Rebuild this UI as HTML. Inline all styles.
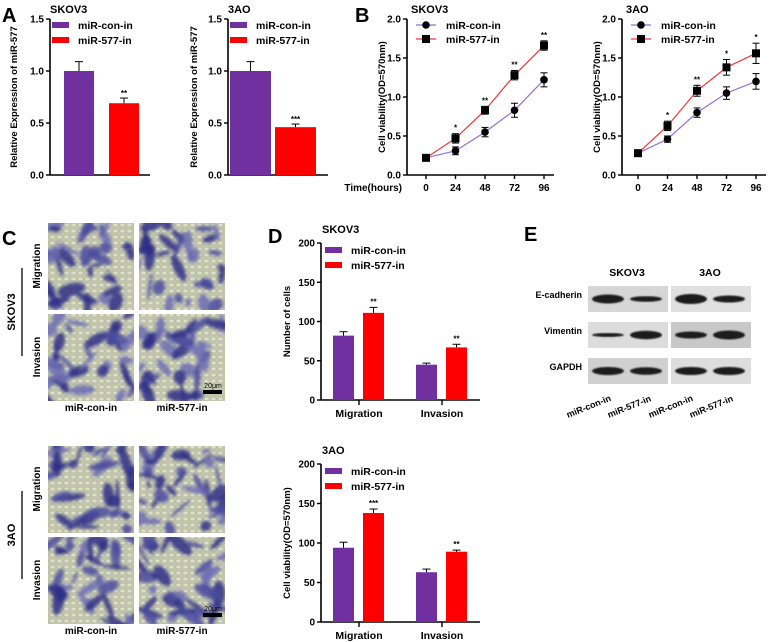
<!DOCTYPE html>
<html><head><meta charset="utf-8"><style>
html,body{margin:0;padding:0;background:#fff}
svg{display:block;font-family:"Liberation Sans",sans-serif;font-weight:bold}
</style></head><body>
<svg id="fig" width="778" height="642" viewBox="0 0 778 642" xmlns="http://www.w3.org/2000/svg">
<defs>
<filter id="blur1"><feGaussianBlur stdDeviation="1.6"/></filter>
<filter id="blur2"><feGaussianBlur stdDeviation="0.8"/></filter>
<pattern id="cellpat" width="7" height="6" patternUnits="userSpaceOnUse">
<rect width="7" height="6" fill="#c3c6ab"/>
<ellipse cx="3.5" cy="3" rx="2.6" ry="2" fill="#dcdfca" stroke="#a9ae94" stroke-width="0.5"/>
</pattern>
</defs>
<g font-size="20">
<text x="2" y="22">A</text>
<text x="355" y="22">B</text>
<text x="2" y="245">C</text>
<text x="268" y="243">D</text>
<text x="524" y="241">E</text>
</g>
<g id="root"></g>
</svg>
<script>
// ---- data ----
const aGroups = ["miR-con-in","miR-577-in"];
const aSkovVals = [1.0, 0.69];
const aSkovErr = [0.09, 0.05];
const aSkovStars = ["", "**"];
const a3aoVals = [1.0, 0.46];
const a3aoErr = [0.09, 0.03];
const a3aoStars = ["", "***"];
const aTicks = ["0.0","0.5","1.0","1.5"];

const bTimes = [0, 24, 48, 72, 96];
const bSkovCon = [0.22, 0.31, 0.55, 0.83, 1.22];
const bSkovConErr = [0.03, 0.05, 0.06, 0.09, 0.09];
const bSkov577 = [0.22, 0.47, 0.83, 1.28, 1.66];
const bSkov577Err = [0.03, 0.06, 0.05, 0.06, 0.06];
const bSkovStars = ["", "*", "**", "**", "**"];
const b3aoCon = [0.28, 0.46, 0.80, 1.05, 1.20];
const b3aoConErr = [0.03, 0.04, 0.06, 0.08, 0.10];
const b3ao577 = [0.28, 0.63, 1.08, 1.38, 1.56];
const b3ao577Err = [0.03, 0.06, 0.07, 0.10, 0.13];
const b3aoStars = ["", "*", "**", "*", "*"];
const bTicks = ["0.0","0.5","1.0","1.5","2.0"];

const dCats = ["Migration","Invasion"];
const dSkovCon = [82, 45];
const dSkovConErr = [5, 2];
const dSkov577 = [111, 67];
const dSkov577Err = [7, 4];
const dSkovStars = ["**","**"];
const d3aoCon = [94, 63];
const d3aoConErr = [7, 4];
const d3ao577 = [138, 89];
const d3ao577Err = [5, 2];
const d3aoStars = ["***","**"];
const dTicks = ["0","50","100","150","200"];

const PURPLE = "#7030a0", RED = "#ff0000", LINEP = "#9a6bd6", LINER = "#ff3030";
const NS = "http://www.w3.org/2000/svg";
const root = document.getElementById("root");

function mk(tag, attrs, name, parent) {
  const el = document.createElementNS(NS, tag);
  for (const k in attrs) el.setAttribute(k, attrs[k]);
  
  
  (parent || root).appendChild(el);
  return el;
}
function txt(x, y, s, size, name, anchor, extra) {
  const a = {x: x, y: y, "font-size": size, "text-anchor": anchor || "start", fill: "#000"};
  if (extra) for (const k in extra) a[k] = extra[k];
  const t = mk("text", a, name);
  t.textContent = s;
  return t;
}
function errBar(x, yTop, yMid, name, col) {
  mk("line", {x1: x, x2: x, y1: yTop, y2: yMid, stroke: col || "#000", "stroke-width": 1}, name);
  mk("line", {x1: x - 4, x2: x + 4, y1: yTop, y2: yTop, stroke: col || "#000", "stroke-width": 1}, name + "-cap");
}
function yAxis(x, y0, y1, ticks, tmax, name) {
  mk("line", {x1: x, x2: x, y1: y0, y2: y1, stroke: "#000", "stroke-width": 1.6}, name);
  ticks.forEach((t, i) => {
    const y = y0 - (y0 - y1) * (parseFloat(t) / tmax);
    mk("line", {x1: x - 4, x2: x, y1: y, y2: y, stroke: "#000", "stroke-width": 1.4}, name + "-tick");
    txt(x - 6, y + 3.5, t, 10, name + "-tick-label", "end");
  });
}
function legendBars(x, y, name) {
  mk("rect", {x: x, y: y - 3, width: 17, height: 6, fill: PURPLE}, name + "-swatch-con");
  txt(x + 26, y + 4, "miR-con-in", 10.5, name + "-label-con");
  mk("rect", {x: x, y: y + 12, width: 17, height: 6, fill: RED}, name + "-swatch-577");
  txt(x + 26, y + 19, "miR-577-in", 10.5, name + "-label-577");
}

// ---- Panel A ----
function panelA(ax, title, vals, errs, stars, barX, barW, name, labX) {
  const y0 = 175, y1 = 19, max = 1.5;
  const Y = v => y0 - (y0 - y1) * v / max;
  txt(ax, 13, title, 11, name + "-title");
  yAxis(ax, y0, y1, aTicks, max, name + "-y-axis");
  mk("line", {x1: ax, x2: ax + 100, y1: y0, y2: y0, stroke: "#000", "stroke-width": 1.6}, name + "-x-axis");
  txt(labX, 97, "Relative Expression of miR-577", 9.5, name + "-y-axis-title", "middle", {transform: "rotate(-90 " + labX + " 97)"});
  const cols = [PURPLE, RED];
  vals.forEach((v, i) => {
    const x = barX[i];
    errBar(x + barW / 2, Y(v + errs[i]), Y(v), name + "-error-bar");
    mk("rect", {x: x, y: Y(v), width: barW, height: y0 - Y(v), fill: cols[i]}, name + "-bar-" + i);
    if (stars[i]) txt(x + barW / 2, Y(v + errs[i]) - 2, stars[i], 8, name + "-significance", "middle");
  });
  legendBars(ax + 2, 25, name + "-legend");
}
panelA(50, "SKOV3", aSkovVals, aSkovErr, aSkovStars, [64, 109], 30, "a-skov3", 17);
panelA(228, "3AO", a3aoVals, a3aoErr, a3aoStars, [230, 275], 41, "a-3ao", 197);

// ---- Panel B ----
function panelB(ax, x0, dx, title, con, conE, r, rE, stars, name, showTime) {
  const y0 = 175, y1 = 19, max = 2.0;
  const Y = v => y0 - (y0 - y1) * v / max;
  const X = t => x0 + dx * (t / 24);
  txt(ax + 4, 13, title, 11, name + "-title");
  yAxis(ax, y0, y1, bTicks, max, name + "-y-axis");
  mk("line", {x1: ax, x2: X(96) + 10, y1: y0, y2: y0, stroke: "#000", "stroke-width": 1.6}, name + "-x-axis");
  bTimes.forEach(t => {
    mk("line", {x1: X(t), x2: X(t), y1: y0, y2: y0 + 4, stroke: "#000", "stroke-width": 1.4}, name + "-x-tick");
    txt(X(t), 191, String(t), 10, name + "-x-tick-label", "middle");
  });
  if (showTime) txt(ax - 5, 191, "Time(hours)", 10, name + "-x-axis-title", "end");
  txt(ax - 22, 97, "Cell viability(OD=570nm)", 9.5, name + "-y-axis-title", "middle", {transform: "rotate(-90 " + (ax - 22) + " 97)"});
  let p1 = "", p2 = "";
  bTimes.forEach((t, i) => { p1 += (i ? "L" : "M") + X(t) + " " + Y(con[i]); p2 += (i ? "L" : "M") + X(t) + " " + Y(r[i]); });
  mk("path", {d: p1, fill: "none", stroke: LINEP, "stroke-width": 1.2}, name + "-line-con");
  mk("path", {d: p2, fill: "none", stroke: LINER, "stroke-width": 1.2}, name + "-line-577");
  bTimes.forEach((t, i) => {
    const x = X(t);
    mk("line", {x1: x, x2: x, y1: Y(con[i] + conE[i]), y2: Y(con[i] - conE[i]), stroke: "#000"}, name + "-err-con");
    mk("line", {x1: x - 3.5, x2: x + 3.5, y1: Y(con[i] + conE[i]), y2: Y(con[i] + conE[i]), stroke: "#000"}, name + "-err-con-cap");
    mk("line", {x1: x - 3.5, x2: x + 3.5, y1: Y(con[i] - conE[i]), y2: Y(con[i] - conE[i]), stroke: "#000"}, name + "-err-con-cap");
    mk("line", {x1: x, x2: x, y1: Y(r[i] + rE[i]), y2: Y(r[i] - rE[i]), stroke: "#000"}, name + "-err-577");
    mk("line", {x1: x - 3.5, x2: x + 3.5, y1: Y(r[i] + rE[i]), y2: Y(r[i] + rE[i]), stroke: "#000"}, name + "-err-577-cap");
    mk("line", {x1: x - 3.5, x2: x + 3.5, y1: Y(r[i] - rE[i]), y2: Y(r[i] - rE[i]), stroke: "#000"}, name + "-err-577-cap");
    mk("circle", {cx: x, cy: Y(con[i]), r: 3.8, fill: "#000"}, name + "-point-con");
    mk("rect", {x: x - 4, y: Y(r[i]) - 4, width: 8, height: 8, fill: "#000"}, name + "-point-577");
    if (stars[i]) txt(x, Y(r[i] + rE[i]) - 3, stars[i], 8, name + "-significance", "middle");
  });
  const lx = ax + 9;
  mk("line", {x1: lx, x2: lx + 20, y1: 25, y2: 25, stroke: LINEP, "stroke-width": 1.2}, name + "-legend-line-con");
  mk("circle", {cx: lx + 10, cy: 25, r: 3.8, fill: "#000"}, name + "-legend-marker-con");
  txt(lx + 30, 29, "miR-con-in", 10.5, name + "-legend-label-con");
  mk("line", {x1: lx, x2: lx + 20, y1: 39, y2: 39, stroke: LINER, "stroke-width": 1.2}, name + "-legend-line-577");
  mk("rect", {x: lx + 6, y: 35, width: 8, height: 8, fill: "#000"}, name + "-legend-marker-577");
  txt(lx + 30, 43, "miR-577-in", 10.5, name + "-legend-label-577");
}
panelB(407, 426, 29.5, "SKOV3", bSkovCon, bSkovConErr, bSkov577, bSkov577Err, bSkovStars, "b-skov3", true);
panelB(622, 638, 29.5, "3AO", b3aoCon, b3aoConErr, b3ao577, b3ao577Err, b3aoStars, "b-3ao", false);

// ---- Panel D ----
function panelD(ax, y0, y1, title, con, conE, r, rE, stars, ylab, name) {
  const max = 200;
  const Y = v => y0 - (y0 - y1) * v / max;
  txt(ax + 1, y1 - 10, title, 11, name + "-title");
  yAxis(ax, y0, y1, dTicks, max, name + "-y-axis");
  mk("line", {x1: ax, x2: ax + 159, y1: y0, y2: y0, stroke: "#000", "stroke-width": 1.6}, name + "-x-axis");
  const gx = [333, 416];
  dCats.forEach((c, i) => {
    const cx = gx[i] + 26;
    mk("line", {x1: cx, x2: cx, y1: y0, y2: y0 + 5, stroke: "#000", "stroke-width": 1.4}, name + "-x-tick");
    txt(cx, y0 + 17, c, 10.5, name + "-x-tick-label", "middle");
    const bx1 = gx[i], bx2 = gx[i] + 30, w = 21;
    errBar(bx1 + w / 2, Y(con[i] + conE[i]), Y(con[i]), name + "-error-bar");
    mk("rect", {x: bx1, y: Y(con[i]), width: w, height: y0 - Y(con[i]), fill: PURPLE}, name + "-bar-con-" + c);
    errBar(bx2 + w / 2, Y(r[i] + rE[i]), Y(r[i]), name + "-error-bar");
    mk("rect", {x: bx2, y: Y(r[i]), width: w, height: y0 - Y(r[i]), fill: RED}, name + "-bar-577-" + c);
    txt(bx2 + w / 2, Y(r[i] + rE[i]) - 3, stars[i], 8, name + "-significance", "middle");
  });
  const my = (y0 + y1) / 2;
  txt(ax - 31, my, ylab, 9.5, name + "-y-axis-title", "middle", {transform: "rotate(-90 " + (ax - 31) + " " + my + ")"});
  legendBars(ax + 4, y1 + 7, name + "-legend");
}
panelD(321, 400, 243, "SKOV3", dSkovCon, dSkovConErr, dSkov577, dSkov577Err, dSkovStars, "Number of cells", "d-skov3");
panelD(321, 622, 464, "3AO", d3aoCon, d3aoConErr, d3ao577, d3ao577Err, d3aoStars, "Cell viability(OD=570nm)", "d-3ao");

// ---- Panel C: micrographs ----
let seed = 7;
function rnd() { seed = (seed * 9301 + 49297) % 233280; return seed / 233280; }
function micro(x, y, w, h, name, scale) {
  const g = mk("g", {}, name);
  mk("rect", {x: x, y: y, width: w, height: h, fill: "url(#cellpat)"}, name + "-background", g);
  const cl = mk("clipPath", {id: name + "-clip"}, name + "-clip", g);
  mk("rect", {x: x, y: y, width: w, height: h}, name + "-clip-rect", cl);
  const cg = mk("g", {filter: "url(#blur1)", "clip-path": "url(#" + name + "-clip)"}, name + "-stained-cells", g);
  for (let i = 0; i < 34; i++) {
    const cx = x + rnd() * w, cy = y + rnd() * h;
    const rx = 4 + rnd() * 12, ry = 1.5 + rnd() * 5, a = rnd() * 180;
    const c = rnd();
    mk("ellipse", {cx: cx, cy: cy, rx: rx, ry: ry, fill: c > 0.5 ? "#2e2f86" : (c > 0.2 ? "#4a4b9f" : "#6d6db4"), opacity: 0.85, transform: "rotate(" + a + " " + cx + " " + cy + ")"}, name + "-cell", cg);
  }
  if (scale) {
    mk("rect", {x: x + w - 22, y: y + h - 11, width: 19, height: 4, fill: "#000"}, name + "-scale-bar", g);
    txt(x + w - 12, y + h - 13, "20μm", 7, name + "-scale-label", "middle", {"font-weight": "normal"});
  }
}
function cBlock(top, label, name) {
  micro(48, top, 86, 87, name + "-con-migration");
  micro(139, top, 86, 87, name + "-577-migration");
  micro(48, top + 91, 86, 87, name + "-con-invasion");
  micro(139, top + 91, 86, 87, name + "-577-invasion", true);
  txt(91, top + 188, "miR-con-in", 10, name + "-col-label-con", "middle");
  txt(182, top + 188, "miR-577-in", 10, name + "-col-label-577", "middle");
  txt(40, top + 43, "Migration", 10, name + "-row-label-migration", "middle", {transform: "rotate(-90 40 " + (top + 43) + ")"});
  txt(40, top + 134, "Invasion", 10, name + "-row-label-invasion", "middle", {transform: "rotate(-90 40 " + (top + 134) + ")"});
  mk("line", {x1: 22, x2: 22, y1: top + 45, y2: top + 133, stroke: "#000", "stroke-width": 1.3}, name + "-bracket");
  txt(15, top + 89, label, 11, name + "-group-label", "middle", {transform: "rotate(-90 15 " + (top + 89) + ")"});
}
cBlock(223, "SKOV3", "c-skov3");
cBlock(446, "3AO", "c-3ao");

// ---- Panel E: western blots ----
const eRows = ["E-cadherin","Vimentin","GAPDH"];
const eBandW = [[4.5, 2.8, 5, 3.5],[2, 4.2, 3.5, 4.5],[4, 3.8, 4, 4]];
const eBg = [["#d6d6d6","#e0e0e0"],["#dcdcdc","#c8c8c8"],["#d0d0d0","#dddddd"]];
txt(627, 276, "SKOV3", 10.5, "e-header-skov3", "middle");
txt(710, 276, "3AO", 10.5, "e-header-3ao", "middle");
const rowY = [286, 322, 358];
eRows.forEach((r, i) => {
  txt(582, rowY[i] + 12, r, 9, "e-row-label", "end");
  [588, 671].forEach((bx, j) => {
    mk("rect", {x: bx, y: rowY[i], width: 80, height: 26, fill: eBg[i][j]}, "e-blot-" + r);
    [bx + 20, bx + 58].forEach((cx, k) => {
      mk("ellipse", {cx: cx, cy: rowY[i] + 13, rx: 16, ry: eBandW[i][j * 2 + k], fill: "#1a1a1a", filter: "url(#blur2)"}, "e-band-" + r);
    });
  });
});
["miR-con-in","miR-577-in","miR-con-in","miR-577-in"].forEach((s, i) => {
  const x = 568 + i * 41, y = 418;
  txt(x, y, s, 9, "e-lane-label", "start", {transform: "rotate(-22 " + x + " " + y + ")"});
});
</script>
</body></html>
